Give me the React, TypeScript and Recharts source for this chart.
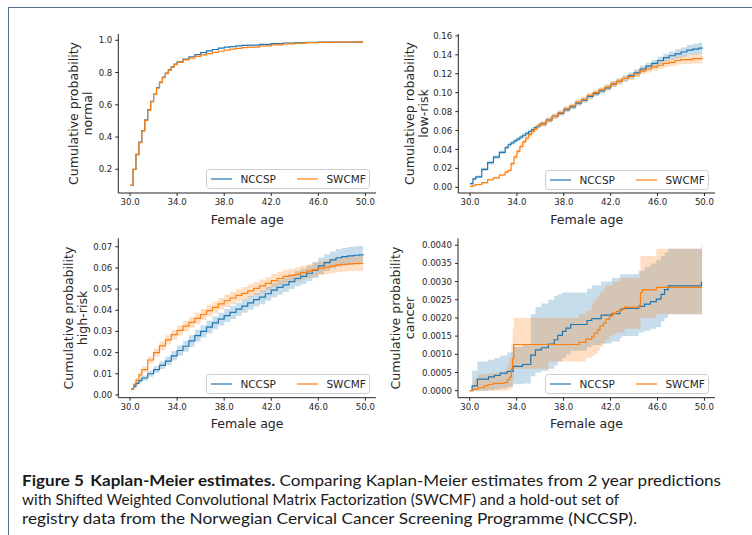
import { ComposedChart, Line, Area, XAxis, YAxis, Legend } from 'recharts';

const BLUE = '#1f77b4';
const ORANGE = '#ff7f0e';
const INK = '#262626';
const FONT = '"DejaVu Sans", sans-serif';

const AGE_TICKS = [30, 34, 38, 42, 46, 50];

// normal
const NORMAL_AGE = [
  30.0, 30.25, 30.5, 30.75, 31.0, 31.25, 31.5, 31.75, 32.0, 32.25, 32.5, 32.75, 33.0, 33.25, 33.5, 33.75, 34.0,
  34.5, 35.0, 35.5, 36.0, 36.5, 37.0, 37.5, 38.0, 38.5, 39.0, 39.5, 40.0, 41.0, 42.0, 43.0, 44.0, 45.0, 46.0,
  47.0, 48.0, 49.0, 49.8,
];
const NORMAL_NCCSP = [
  0.1, 0.2, 0.292, 0.368, 0.44, 0.506, 0.57, 0.622, 0.667, 0.707, 0.741, 0.771, 0.796, 0.817, 0.836, 0.852, 0.866,
  0.884, 0.898, 0.911, 0.924, 0.934, 0.943, 0.951, 0.957, 0.961, 0.965, 0.968, 0.97, 0.975, 0.979, 0.982, 0.985,
  0.987, 0.988, 0.988, 0.989, 0.989, 0.989,
];
const NORMAL_SWCMF = [
  0.1, 0.2, 0.29, 0.366, 0.438, 0.503, 0.567, 0.619, 0.664, 0.704, 0.738, 0.768, 0.793, 0.814, 0.833, 0.849, 0.863,
  0.878, 0.889, 0.9, 0.909, 0.917, 0.925, 0.932, 0.939, 0.945, 0.95, 0.954, 0.958, 0.965, 0.972, 0.978, 0.982,
  0.985, 0.987, 0.988, 0.989, 0.99, 0.99,
];

// low-risk
const LOWRISK_AGE = [
  30.0, 30.25, 30.5, 31.0, 31.5, 32.0, 32.5, 33.0, 33.25, 33.5, 33.75, 34.0, 34.25, 34.5, 34.75, 35.0, 35.25, 35.5,
  35.75, 36.0, 36.5, 37.0, 37.5, 38.0, 38.5, 39.0, 39.5, 40.0, 40.5, 41.0, 41.5, 42.0, 42.5, 43.0, 43.5, 44.0, 44.5,
  45.0, 45.5, 46.0, 46.5, 47.0, 47.5, 48.0, 48.5, 49.0, 49.5, 49.8,
];
const LOWRISK_NCCSP = [
  0.004, 0.009, 0.011, 0.019, 0.026, 0.032, 0.037, 0.042, 0.045, 0.047, 0.049, 0.051, 0.053, 0.055, 0.057, 0.059,
  0.061, 0.063, 0.065, 0.067, 0.071, 0.075, 0.078, 0.082, 0.085, 0.089, 0.092, 0.096, 0.099, 0.102, 0.105, 0.109,
  0.112, 0.115, 0.118, 0.121, 0.125, 0.128, 0.131, 0.134, 0.137, 0.139, 0.141, 0.143, 0.145, 0.146, 0.147, 0.148,
];
const LOWRISK_NCCSP_CI = [
  0.0012, 0.0015, 0.0015, 0.0017, 0.002, 0.002, 0.002, 0.002, 0.002, 0.002, 0.002, 0.002, 0.0022, 0.0022, 0.0022,
  0.0022, 0.0024, 0.0024, 0.0024, 0.0025, 0.0025, 0.0025, 0.0025, 0.0026, 0.0026, 0.0027, 0.0027, 0.0028, 0.0029,
  0.003, 0.003, 0.003, 0.0031, 0.0032, 0.0033, 0.0034, 0.0035, 0.0036, 0.0038, 0.004, 0.0042, 0.0045, 0.0048, 0.005,
  0.0053, 0.0056, 0.006, 0.0065,
];
const LOWRISK_SWCMF = [
  0.001, 0.002, 0.003, 0.005, 0.008, 0.01, 0.013, 0.016, 0.018, 0.025, 0.032, 0.038, 0.043, 0.048, 0.052, 0.056,
  0.059, 0.062, 0.065, 0.067, 0.071, 0.075, 0.079, 0.083, 0.086, 0.09, 0.093, 0.097, 0.1, 0.103, 0.106, 0.109,
  0.112, 0.115, 0.117, 0.12, 0.123, 0.125, 0.127, 0.129, 0.131, 0.132, 0.134, 0.135, 0.135, 0.136, 0.136, 0.137,
];
const LOWRISK_SWCMF_CI = [
  0.0008, 0.001, 0.001, 0.001, 0.0012, 0.0013, 0.0014, 0.0015, 0.0016, 0.002, 0.0024, 0.0026, 0.0027, 0.0027,
  0.0027, 0.0027, 0.0027, 0.0027, 0.0027, 0.0027, 0.0027, 0.0027, 0.0027, 0.0028, 0.0028, 0.0028, 0.0028, 0.0029,
  0.0029, 0.003, 0.003, 0.003, 0.0031, 0.0032, 0.0033, 0.0034, 0.0035, 0.0036, 0.0037, 0.0038, 0.004, 0.0042,
  0.0044, 0.0046, 0.0048, 0.005, 0.0052, 0.0055,
];

// high-risk
const HIGHRISK_AGE = [
  30.1, 30.3, 30.5, 30.75, 31.0, 31.5, 32.0, 32.5, 33.0, 33.5, 34.0, 34.5, 35.0, 35.5, 36.0, 36.5, 37.0, 37.5, 38.0,
  38.5, 39.0, 39.5, 40.0, 40.5, 41.0, 41.5, 42.0, 42.5, 43.0, 43.5, 44.0, 44.5, 45.0, 45.5, 46.0, 46.5, 47.0, 47.5,
  48.0, 48.5, 49.0, 49.5, 49.8,
];
const HIGHRISK_NCCSP = [
  0.0028, 0.004, 0.0055, 0.0068, 0.008, 0.01, 0.012, 0.014, 0.016, 0.0185, 0.021, 0.023, 0.0255, 0.028, 0.03, 0.032,
  0.034, 0.0358, 0.0375, 0.039, 0.0405, 0.042, 0.0435, 0.045, 0.0462, 0.0478, 0.0495, 0.0508, 0.052, 0.0535, 0.055,
  0.056, 0.0575, 0.059, 0.061, 0.0625, 0.0638, 0.0648, 0.0653, 0.0657, 0.066, 0.0662, 0.0665,
];
const HIGHRISK_NCCSP_CI = [
  0.0006, 0.0008, 0.0009, 0.001, 0.0012, 0.0014, 0.0016, 0.0018, 0.002, 0.0022, 0.0024, 0.0026, 0.0027, 0.0028,
  0.0029, 0.003, 0.003, 0.003, 0.0031, 0.0031, 0.0031, 0.0032, 0.0032, 0.0032, 0.0033, 0.0033, 0.0033, 0.0034,
  0.0034, 0.0034, 0.0035, 0.0036, 0.0037, 0.0038, 0.0039, 0.004, 0.004, 0.0041, 0.0041, 0.0042, 0.0042, 0.0042,
  0.0042,
];
const HIGHRISK_SWCMF = [
  0.0028, 0.005, 0.007, 0.0095, 0.012, 0.0165, 0.02, 0.0232, 0.026, 0.0285, 0.0305, 0.0325, 0.0343, 0.0362, 0.038,
  0.0398, 0.0414, 0.043, 0.0445, 0.0458, 0.047, 0.048, 0.0492, 0.0503, 0.0515, 0.0527, 0.054, 0.055, 0.056, 0.0565,
  0.057, 0.0578, 0.0585, 0.0592, 0.0598, 0.0604, 0.061, 0.0614, 0.0617, 0.0619, 0.062, 0.0621, 0.0622,
];
const HIGHRISK_SWCMF_CI = [
  0.0006, 0.0009, 0.0011, 0.0013, 0.0015, 0.0017, 0.0019, 0.0021, 0.0022, 0.0023, 0.0024, 0.0025, 0.0026, 0.0027,
  0.0027, 0.0028, 0.0028, 0.0028, 0.0029, 0.0029, 0.0029, 0.003, 0.003, 0.003, 0.003, 0.003, 0.0031, 0.0031,
  0.0031, 0.0031, 0.0032, 0.0032, 0.0032, 0.0033, 0.0033, 0.0033, 0.0034, 0.0034, 0.0034, 0.0035, 0.0035, 0.0035,
  0.0035,
];

// cancer: each curve keeps its own event times
const CANCER_NCCSP_AGE = [
  30.0, 30.2, 30.65, 31.6, 32.1, 32.6, 33.2, 33.7, 34.5, 35.2, 35.6, 36.1, 36.7, 37.2, 37.5, 37.9, 38.2, 38.6, 40.0,
  40.4, 41.2, 42.1, 42.8, 43.0, 44.4, 44.9, 45.4, 45.9, 46.3, 46.6, 46.9, 49.75, 49.8,
];
const CANCER_NCCSP = [
  0, 0.00013, 0.00032, 0.00038, 0.00042, 0.00048, 0.00053, 0.00067, 0.00072, 0.00098, 0.00112, 0.00118, 0.00128,
  0.0014, 0.00152, 0.00163, 0.00172, 0.00182, 0.00193, 0.00198, 0.00208, 0.00212, 0.00222, 0.00226, 0.00232,
  0.00238, 0.00245, 0.00252, 0.00265, 0.00278, 0.00288, 0.00298, 0.00298,
];
const CANCER_NCCSP_LO = [
  0, 0, 0, 0.00002, 0.00004, 0.00007, 0.0001, 0.00018, 0.0002, 0.0004, 0.0005, 0.00055, 0.0006, 0.0007, 0.0008,
  0.0009, 0.001, 0.0011, 0.0012, 0.00125, 0.0013, 0.00135, 0.00145, 0.0015, 0.0016, 0.00165, 0.0017, 0.00175,
  0.0019, 0.002, 0.0021, 0.0021, 0.0021,
];
const CANCER_NCCSP_HI = [
  0, 0.00055, 0.0008, 0.00085, 0.0009, 0.00097, 0.00105, 0.0012, 0.00128, 0.0021, 0.0023, 0.0024, 0.0025, 0.0026,
  0.00265, 0.0027, 0.0027, 0.0027, 0.0028, 0.0029, 0.003, 0.0031, 0.0032, 0.0032, 0.0033, 0.0034, 0.0035, 0.0036,
  0.0037, 0.0038, 0.0039, 0.004, 0.004,
];
const CANCER_SWCMF_AGE = [
  30.0, 30.3, 30.7, 31.25, 31.55, 32.0, 32.9, 33.2, 33.4, 33.55, 33.65, 33.75, 36.7, 39.3, 39.9, 40.4, 40.6, 40.9,
  41.1, 41.4, 41.6, 41.9, 42.2, 42.5, 42.8, 43.2, 44.5, 44.55, 44.7, 45.9, 49.8,
];
const CANCER_SWCMF = [
  0, 0.00004, 0.00008, 0.00013, 0.00017, 0.0002, 0.00022, 0.0003, 0.00037, 0.0006, 0.00088, 0.00127, 0.00127,
  0.00133, 0.00142, 0.00148, 0.00158, 0.00168, 0.00178, 0.00186, 0.00196, 0.00205, 0.00213, 0.00218, 0.00224,
  0.0023, 0.00236, 0.0027, 0.00277, 0.00284, 0.00284,
];
const CANCER_SWCMF_LO = [
  0, 0, 0, 0, 0, 0, 0, 0.00002, 0.00005, 0.0001, 0.0003, 0.0006, 0.0008, 0.0008, 0.0009, 0.00095, 0.001, 0.0011,
  0.0012, 0.0013, 0.0014, 0.0015, 0.00155, 0.0016, 0.0016, 0.0017, 0.0017, 0.002, 0.002, 0.0021, 0.0021,
];
const CANCER_SWCMF_HI = [
  0, 0.0003, 0.00045, 0.00045, 0.00048, 0.0005, 0.00055, 0.0007, 0.0009, 0.0013, 0.0017, 0.002, 0.002, 0.0021,
  0.0022, 0.0024, 0.0025, 0.0026, 0.0027, 0.0028, 0.0029, 0.0029, 0.003, 0.003, 0.0031, 0.0031, 0.0032, 0.0037,
  0.0037, 0.0039, 0.0039,
];

type Row = { age: number; value: number };
type BandRow = { age: number; range: [number, number] };

const toRows = (age: number[], value: number[]): Row[] => age.map((a, i) => ({ age: a, value: value[i] }));
const ciBand = (age: number[], value: number[], ci: number[]): BandRow[] =>
  age.map((a, i) => ({ age: a, range: [value[i] - ci[i], value[i] + ci[i]] }));
const loHiBand = (age: number[], lo: number[], hi: number[]): BandRow[] =>
  age.map((a, i) => ({ age: a, range: [lo[i], hi[i]] }));

type Curve = { name: string; color: string; line: Row[]; band?: BandRow[] };

type PanelConfig = {
  left: number;
  top: number;
  axisLeft: number;
  plotTop: number;
  plotBottom: number;
  plotRight: number;
  yDomain: [number, number];
  yTicks: number[];
  digits: number;
  ylabel: [string, string];
  ylabelGap: [number, number];
  legendAt: [number, number];
  curves: Curve[];
};

const PANELS: PanelConfig[] = [
  {
    left: 0, top: 20, axisLeft: 118.3, plotTop: 34, plotBottom: 193, plotRight: 376,
    yDomain: [0.053, 1.039], yTicks: [0.2, 0.4, 0.6, 0.8, 1.0], digits: 1,
    ylabel: ['Cumulative probability', 'normal'], ylabelGap: [45, 31], legendAt: [206, 149],
    curves: [
      { name: 'NCCSP', color: BLUE, line: toRows(NORMAL_AGE, NORMAL_NCCSP) },
      { name: 'SWCMF', color: ORANGE, line: toRows(NORMAL_AGE, NORMAL_SWCMF) },
    ],
  },
  {
    left: 380, top: 20, axisLeft: 458.3, plotTop: 34, plotBottom: 193, plotRight: 715,
    yDomain: [-0.006, 0.162], yTicks: [0, 0.02, 0.04, 0.06, 0.08, 0.1, 0.12, 0.14, 0.16], digits: 2,
    ylabel: ['Cumulativep robability', 'low-risk'], ylabelGap: [49, 35], legendAt: [165, 150],
    curves: [
      {
        name: 'NCCSP', color: BLUE, line: toRows(LOWRISK_AGE, LOWRISK_NCCSP),
        band: ciBand(LOWRISK_AGE, LOWRISK_NCCSP, LOWRISK_NCCSP_CI),
      },
      {
        name: 'SWCMF', color: ORANGE, line: toRows(LOWRISK_AGE, LOWRISK_SWCMF),
        band: ciBand(LOWRISK_AGE, LOWRISK_SWCMF, LOWRISK_SWCMF_CI),
      },
    ],
  },
  {
    left: 0, top: 225, axisLeft: 118.3, plotTop: 238.3, plotBottom: 397.7, plotRight: 376,
    yDomain: [-0.0013, 0.074], yTicks: [0, 0.01, 0.02, 0.03, 0.04, 0.05, 0.06, 0.07], digits: 2,
    ylabel: ['Cumulative probability', 'high-risk'], ylabelGap: [50, 36], legendAt: [206, 149],
    curves: [
      {
        name: 'NCCSP', color: BLUE, line: toRows(HIGHRISK_AGE, HIGHRISK_NCCSP),
        band: ciBand(HIGHRISK_AGE, HIGHRISK_NCCSP, HIGHRISK_NCCSP_CI),
      },
      {
        name: 'SWCMF', color: ORANGE, line: toRows(HIGHRISK_AGE, HIGHRISK_SWCMF),
        band: ciBand(HIGHRISK_AGE, HIGHRISK_SWCMF, HIGHRISK_SWCMF_CI),
      },
    ],
  },
  {
    left: 380, top: 225, axisLeft: 458, plotTop: 238.3, plotBottom: 397.7, plotRight: 715,
    yDomain: [-0.000193, 0.00419],
    yTicks: [0, 0.0005, 0.001, 0.0015, 0.002, 0.0025, 0.003, 0.0035, 0.004], digits: 4,
    ylabel: ['Cumulative probability', 'cancer'], ylabelGap: [62, 48], legendAt: [165, 149],
    curves: [
      {
        name: 'NCCSP', color: BLUE, line: toRows(CANCER_NCCSP_AGE, CANCER_NCCSP),
        band: loHiBand(CANCER_NCCSP_AGE, CANCER_NCCSP_LO, CANCER_NCCSP_HI),
      },
      {
        name: 'SWCMF', color: ORANGE, line: toRows(CANCER_SWCMF_AGE, CANCER_SWCMF),
        band: loHiBand(CANCER_SWCMF_AGE, CANCER_SWCMF_LO, CANCER_SWCMF_HI),
      },
    ],
  },
];

const tickStyle = { fontSize: 8.6, fill: INK, fontFamily: FONT };

function KMLegend({ curves }: { curves: Curve[] }) {
  const slots = [
    { line: 5, text: 34.4 },
    { line: 91, text: 120.4 },
  ];
  return (
    <svg width={164} height={20} style={{ display: 'block' }}>
      <rect x={0.5} y={0.5} width={163} height={19} rx={3} fill="#ffffff" fillOpacity={0.8} stroke="#cccccc" />
      {curves.map((c, i) => (
        <g key={c.name}>
          <line x1={slots[i].line} x2={slots[i].line + 21} y1={10} y2={10} stroke={c.color} strokeWidth={1.2} />
          <text x={slots[i].text} y={13.8} fontSize={10.5} fontFamily={FONT} fill={INK}>
            {c.name}
          </text>
        </g>
      ))}
    </svg>
  );
}

function Panel({ cfg }: { cfg: PanelConfig }) {
  const width = cfg.plotRight - cfg.left + 5;
  const height = cfg.plotBottom - cfg.top + 42;
  const yWidth = cfg.axisLeft - cfg.left;

  const renderYLabel = (props: any) => {
    const vb = props.viewBox;
    const right = vb.x + vb.width;
    const cy = vb.y + vb.height / 2;
    return (
      <g>
        {cfg.ylabel.map((s, i) => {
          const x = right - cfg.ylabelGap[i];
          return (
            <text
              key={s}
              x={x}
              y={cy}
              transform={`rotate(-90, ${x}, ${cy})`}
              textAnchor="middle"
              dominantBaseline="central"
              fontSize={12.6}
              fontFamily={FONT}
              fill={INK}
            >
              {s}
            </text>
          );
        })}
      </g>
    );
  };

  const renderXLabel = (props: any) => {
    const vb = props.viewBox;
    return (
      <text
        x={vb.x + vb.width / 2}
        y={vb.y + 26}
        textAnchor="middle"
        dominantBaseline="central"
        fontSize={12.6}
        fontFamily={FONT}
        fill={INK}
      >
        Female age
      </text>
    );
  };

  return (
    <div style={{ position: 'absolute', left: cfg.left, top: cfg.top }}>
      <ComposedChart
        width={width}
        height={height}
        margin={{ top: cfg.plotTop - cfg.top, right: 5, bottom: 12, left: 0 }}
      >
        <XAxis
          dataKey="age"
          type="number"
          domain={[29, 50.9]}
          allowDataOverflow
          ticks={AGE_TICKS}
          interval={0}
          tickFormatter={(v: number) => v.toFixed(1)}
          height={30}
          tick={tickStyle}
          tickSize={3}
          tickMargin={3}
          stroke={INK}
          label={{ content: renderXLabel }}
        />
        <YAxis
          type="number"
          domain={cfg.yDomain}
          allowDataOverflow
          ticks={cfg.yTicks}
          interval={0}
          tickFormatter={(v: number) => v.toFixed(cfg.digits)}
          width={yWidth}
          tick={tickStyle}
          tickSize={3}
          tickMargin={3}
          stroke={INK}
          label={{ content: renderYLabel }}
        />
        {cfg.curves.flatMap((c) => [
          c.band ? (
            <Area
              key={`${c.name}-band`}
              data={c.band}
              dataKey="range"
              type="stepAfter"
              stroke="none"
              fill={c.color}
              fillOpacity={0.25}
              isAnimationActive={false}
              activeDot={false}
            />
          ) : null,
          <Line
            key={`${c.name}-line`}
            data={c.line}
            dataKey="value"
            type="stepAfter"
            stroke={c.color}
            strokeWidth={1.2}
            dot={false}
            activeDot={false}
            isAnimationActive={false}
          />,
        ])}
        <Legend
          verticalAlign="middle"
          align="center"
          layout="horizontal"
          wrapperStyle={{ left: cfg.legendAt[0], top: cfg.legendAt[1], width: 164, height: 20 }}
          content={() => <KMLegend curves={cfg.curves} />}
        />
      </ComposedChart>
    </div>
  );
}

const CAPTION_FONT = 'Lato, "DejaVu Sans", sans-serif';

function Caption() {
  return (
    <svg width={752} height={80} style={{ position: 'absolute', left: 0, top: 460 }}>
      <text x={22} y={26} fontSize={16} fontFamily={CAPTION_FONT} fill="#1a1a1a" textLength={699} lengthAdjust="spacingAndGlyphs">
        <tspan fontWeight="bold">Figure 5</tspan>
        <tspan fontWeight="bold" dx={6}>Kaplan-Meier estimates.</tspan>
        <tspan dx={4}>Comparing Kaplan-Meier estimates from 2 year predictions</tspan>
      </text>
      <text x={22} y={45} fontSize={16} fontFamily={CAPTION_FONT} fill="#1a1a1a" textLength={597} lengthAdjust="spacingAndGlyphs">
        with Shifted Weighted Convolutional Matrix Factorization (SWCMF) and a hold-out set of
      </text>
      <text x={22} y={64} fontSize={16} fontFamily={CAPTION_FONT} fill="#1a1a1a" textLength={615} lengthAdjust="spacingAndGlyphs">
        registry data from the Norwegian Cervical Cancer Screening Programme (NCCSP).
      </text>
    </svg>
  );
}

export default function App() {
  return (
    <div
      style={{
        position: 'absolute',
        left: 0,
        top: 0,
        width: 752,
        height: 535,
        overflow: 'hidden',
        background: '#ffffff',
      }}
    >
      <div
        style={{
          position: 'absolute',
          left: 8.25,
          top: 7.25,
          width: 900,
          height: 700,
          borderTop: '1.5px solid #4f6f8f',
          borderLeft: '1.5px solid #4f6f8f',
        }}
      />
      {PANELS.map((p) => (
        <Panel key={p.ylabel[1]} cfg={p} />
      ))}
      <Caption />
    </div>
  );
}
